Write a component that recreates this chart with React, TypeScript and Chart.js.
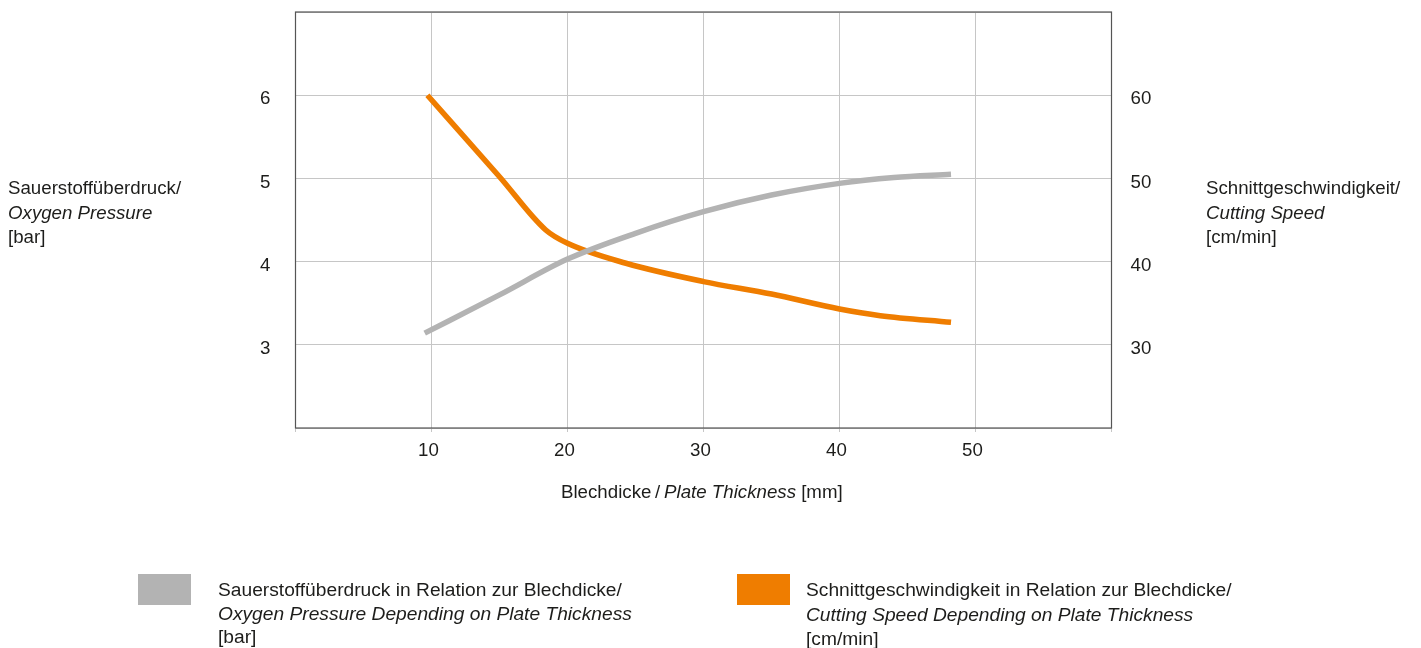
import React, { useEffect, useRef } from "react";
import { Chart, registerables } from "chart.js";

Chart.register(...registerables);

// Plate thickness (mm) / oxygen pressure (bar)
const pressureX = [9.5, 15, 20, 25, 30, 35, 40, 44, 48.2];
const pressureY = [3.14, 3.6, 4.03, 4.34, 4.6, 4.8, 4.94, 5.01, 5.05];

// Plate thickness (mm) / cutting speed (cm/min)
const speedX = [9.7, 15, 18.4, 20, 24.3, 30, 35, 40, 43, 48.2];
const speedY = [60, 50.2, 43.8, 42.2, 39.8, 37.6, 36.1, 34.3, 33.5, 32.7];

const xTicks = [10, 20, 30, 40, 50];
const leftTicks = [3, 4, 5, 6];
const rightTicks = [30, 40, 50, 60];

const GRAY = "#b3b3b3";
const ORANGE = "#ef7d00";
const TEXT = "#1d1d1b";
const FONT = '"Liberation Sans", Arial, Helvetica, sans-serif';
const FS = 18.7;
const LEGEND_FS = 19.2;

const frame = {
  id: "frame",
  afterDatasetsDraw(chart: any) {
    const { ctx, chartArea: a } = chart;
    ctx.save();
    ctx.strokeStyle = "#555555";
    ctx.lineWidth = 1.2;
    ctx.strokeRect(a.left, a.top, a.right - a.left, a.bottom - a.top);
    ctx.restore();
  },
};

export default function App() {
  const ref = useRef<HTMLCanvasElement | null>(null);

  useEffect(() => {
    if (!ref.current) return;
    const tickFont = { family: FONT, size: FS };
    const chart = new Chart(ref.current, {
      type: "line",
      data: {
        datasets: [
          {
            label: "Sauerstoffüberdruck",
            data: pressureX.map((x, i) => ({ x, y: pressureY[i] })),
            borderColor: GRAY,
            backgroundColor: GRAY,
            borderWidth: 5.5,
            pointRadius: 0,
            cubicInterpolationMode: "monotone",
            yAxisID: "y",
          },
          {
            label: "Schnittgeschwindigkeit",
            data: speedX.map((x, i) => ({ x, y: speedY[i] })),
            borderColor: ORANGE,
            backgroundColor: ORANGE,
            borderWidth: 5.5,
            pointRadius: 0,
            cubicInterpolationMode: "monotone",
            yAxisID: "y1",
          },
        ],
      },
      options: {
        responsive: false,
        animation: false,
        layout: { padding: { top: 12, left: 0, right: 0, bottom: 0 } },
        plugins: { legend: { display: false }, tooltip: { enabled: false } },
        scales: {
          x: {
            type: "linear",
            min: 0,
            max: 60,
            afterBuildTicks: (s: any) => {
              s.ticks = [0, ...xTicks, 60].map((v) => ({ value: v }));
            },
            afterFit: (s: any) => {
              s.height = 220;
              s.paddingLeft = 0;
              s.paddingRight = 0;
            },
            ticks: {
              callback: (v: any) => (xTicks.includes(v) ? String(v) : ""),
              color: TEXT,
              font: tickFont,
              padding: 8,
              labelOffset: -3,
              maxRotation: 0,
              autoSkip: false,
            },
            grid: { color: "#c6c6c6", lineWidth: 1, tickLength: 4 },
            border: { display: false },
          },
          y: {
            position: "left",
            min: 2,
            max: 7,
            afterBuildTicks: (s: any) => {
              s.ticks = [2, ...leftTicks, 7].map((v) => ({ value: v }));
            },
            afterFit: (s: any) => {
              s.width = 295.5;
              s.paddingTop = 0;
              s.paddingBottom = 0;
            },
            ticks: {
              callback: (v: any) => (leftTicks.includes(v) ? String(v) : ""),
              color: TEXT,
              font: tickFont,
              padding: 25,
              labelOffset: 4,
            },
            grid: { color: "#c6c6c6", lineWidth: 1, drawTicks: false },
            border: { display: false },
          },
          y1: {
            position: "right",
            min: 20,
            max: 70,
            afterBuildTicks: (s: any) => {
              s.ticks = [20, ...rightTicks, 70].map((v) => ({ value: v }));
            },
            afterFit: (s: any) => {
              s.width = 309.5;
              s.paddingTop = 0;
              s.paddingBottom = 0;
            },
            ticks: {
              callback: (v: any) => (rightTicks.includes(v) ? String(v) : ""),
              color: TEXT,
              font: tickFont,
              padding: 19,
              labelOffset: 4,
            },
            grid: { display: false, drawTicks: false },
            border: { display: false },
          },
        },
      },
      plugins: [frame],
    } as any);
    return () => chart.destroy();
  }, []);

  const txt: React.CSSProperties = {
    position: "absolute",
    fontFamily: FONT,
    fontSize: FS,
    color: TEXT,
    whiteSpace: "nowrap",
  };
  const it: React.CSSProperties = { fontStyle: "italic" };

  return (
    <div style={{ position: "absolute", left: 0, top: 0, width: 1421, height: 648, background: "#fff" }}>
      <canvas ref={ref} width={1421} height={648} style={{ display: "block" }} />
      <div style={{ ...txt, left: 8, top: 176, lineHeight: "24.5px" }}>
        Sauerstoffüberdruck/
        <br />
        <span style={it}>Oxygen Pressure</span>
        <br />
        [bar]
      </div>
      <div style={{ ...txt, left: 1206, top: 176, lineHeight: "24.5px" }}>
        Schnittgeschwindigkeit/
        <br />
        <span style={it}>Cutting Speed</span>
        <br />
        [cm/min]
      </div>
      <div style={{ ...txt, left: 561, top: 480, lineHeight: "24px" }}>
        Blechdicke{"\u2009/\u2009"}<span style={it}>Plate Thickness</span> [mm]
      </div>
      <div style={{ position: "absolute", left: 138, top: 574, width: 53, height: 31, background: GRAY }} />
      <div style={{ ...txt, fontSize: LEGEND_FS, left: 218, top: 578, lineHeight: "23.5px" }}>
        Sauerstoffüberdruck in Relation zur Blechdicke/
        <br />
        <span style={it}>Oxygen Pressure Depending on Plate Thickness</span>
        <br />
        [bar]
      </div>
      <div style={{ position: "absolute", left: 737, top: 574, width: 53, height: 31, background: ORANGE }} />
      <div style={{ ...txt, fontSize: LEGEND_FS, left: 806, top: 578, lineHeight: "24.5px" }}>
        Schnittgeschwindigkeit in Relation zur Blechdicke/
        <br />
        <span style={it}>Cutting Speed Depending on Plate Thickness</span>
        <br />
        [cm/min]
      </div>
    </div>
  );
}
